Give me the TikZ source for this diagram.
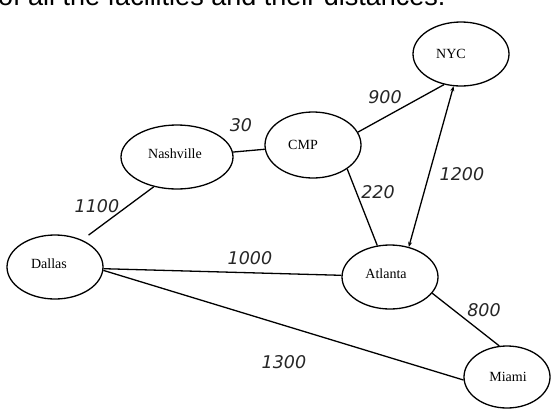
\documentclass[tikz,border=0pt]{standalone}
\usepackage{fontspec}
\setmainfont{Liberation Serif}
\newfontfamily\topfont{Liberation Sans}
\newfontfamily\handfont{DejaVu Sans}
\usetikzlibrary{shapes.geometric,arrows.meta}
\begin{document}
\begin{tikzpicture}[x=1pt,y=-1pt,
  city/.style={ellipse, draw, line width=1.3pt, inner sep=0pt, minimum width=96pt, minimum height=64pt},
  cityname/.style={font=\fontsize{14}{16}\selectfont, inner sep=0pt},
  road/.style={line width=1.3pt},
  dist/.style={font=\handfont\itshape\fontsize{17.5}{20}\selectfont, inner sep=0pt, text=black!85}]
\useasboundingbox (0,0) rectangle (559,410);
\fill[white] (0,0) rectangle (559,410);
\node[anchor=base west, inner sep=0pt, font=\topfont\fontsize{27}{31}\selectfont] (title) at (-2,5.5) {of all the facilities and their distances.};

\node[city, label={[cityname, xshift=-10pt]center:NYC}] (nyc) at (461,54) {};
\node[city, minimum height=66pt, label={[cityname, xshift=-10pt]center:CMP}] (cmp) at (313,145) {};
\node[city, minimum width=112pt, label={[cityname, xshift=-2pt, yshift=3pt]center:Nashville}] (nash) at (177,157) {};
\node[city, label={[cityname, xshift=-6pt, yshift=3pt]center:Dallas}] (dal) at (55,267) {};
\node[city, label={[cityname, xshift=-4pt, yshift=3pt]center:Atlanta}] (atl) at (390,277) {};
\node[city, minimum width=86pt, minimum height=62pt, label={[cityname, xshift=1pt]center:Miami}] (mia) at (507,377) {};

\draw[road] (nash) -- (cmp);
\draw[road, shorten >=8pt] (nash.232) -- (dal.45);
\draw[road] (cmp.16) -- (nyc.241);
\draw[road] (cmp.-35) -- (atl.112);
\draw[road, {Stealth[length=5pt,width=4pt]}-{Stealth[length=5pt,width=4pt]}] (nyc.257) -- (atl.58);
\draw[road] (dal.-2) -- (atl.178);
\draw[road] (dal.-4) -- (mia.184);
\draw[road] (atl.-21) -- (mia.104);

\node[dist] (d30) at (241,125) {30};
\node[dist] (d1100) at (97,206) {1100};
\node[dist] (d1000) at (250,258) {1000};
\node[dist] (d900) at (385,97) {900};
\node[dist] (d220) at (378,192) {220};
\node[dist] (d1200) at (462,174) {1200};
\node[dist] (d800) at (484,310) {800};
\node[dist] (d1300) at (284,362) {1300};
\end{tikzpicture}
\end{document}
